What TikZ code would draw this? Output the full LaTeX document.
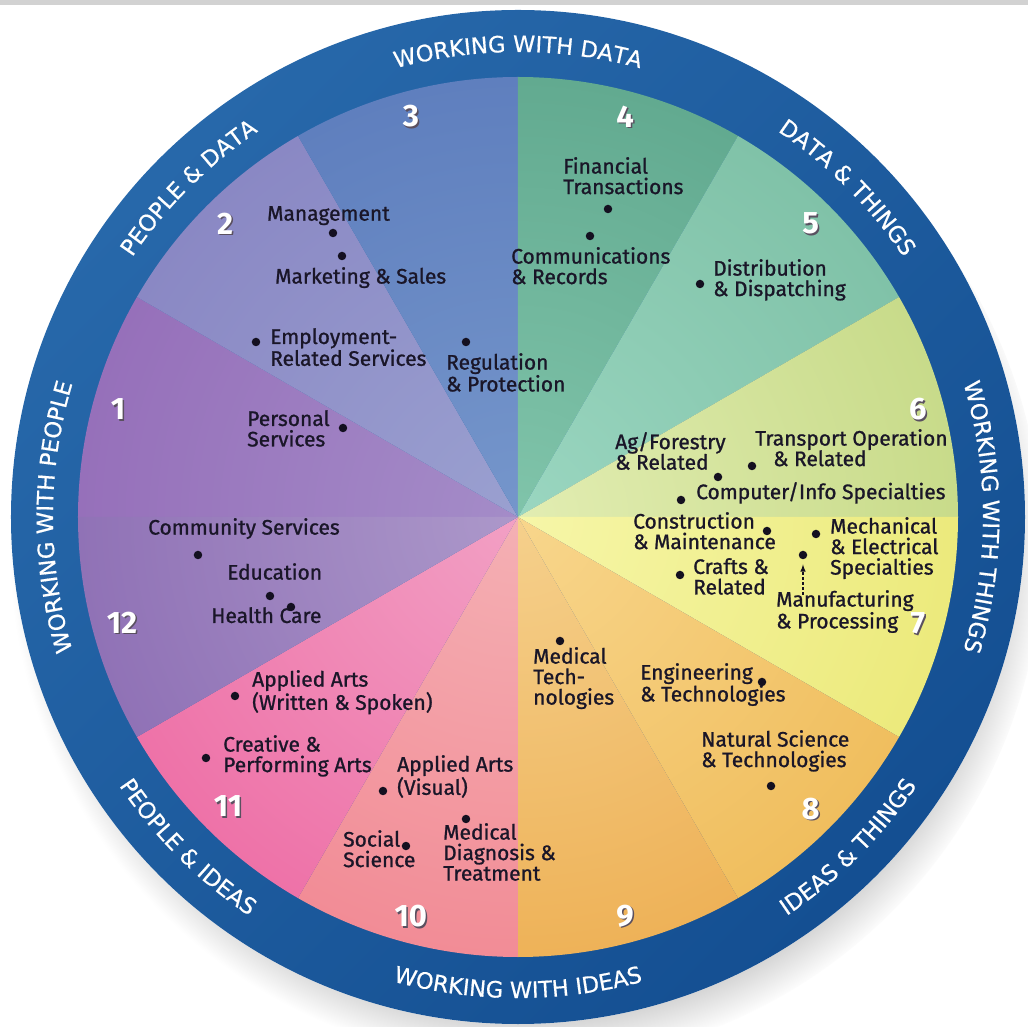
\documentclass[tikz,border=0pt]{standalone}
\usepackage{fontspec}
\usepackage{tikz}
\usetikzlibrary{decorations.text,shadows}
\setmainfont{Fira Sans}
\newfontfamily\labelfam{Fira Sans}[FakeBold=1.0]
\newfontfamily\ringfam{DejaVu Sans}[FakeBold=0.6]
\newfontfamily\numfam{Fira Sans}
\definecolor{ringtop}{HTML}{2768AA}
\definecolor{ringbottom}{HTML}{144F92}
\definecolor{labeltext}{HTML}{1A1628}
\definecolor{dotcol}{HTML}{141020}
\definecolor{numshadow}{HTML}{5A5060}
% sector colours: centre / rim
\definecolor{s1in}{HTML}{A48CC8}\definecolor{s1out}{HTML}{9670BA}
\definecolor{s2in}{HTML}{9AA0D0}\definecolor{s2out}{HTML}{8A88C4}
\definecolor{s3in}{HTML}{7596CB}\definecolor{s3out}{HTML}{5F7FBE}
\definecolor{s4in}{HTML}{80C4AA}\definecolor{s4out}{HTML}{62AA90}
\definecolor{s5in}{HTML}{9AD6C0}\definecolor{s5out}{HTML}{80C2A8}
\definecolor{s6in}{HTML}{E2EDB2}\definecolor{s6out}{HTML}{C8DB8A}
\definecolor{s7in}{HTML}{F6F6A8}\definecolor{s7out}{HTML}{ECEA7C}
\definecolor{s8in}{HTML}{F8D68C}\definecolor{s8out}{HTML}{F0BE5E}
\definecolor{s9in}{HTML}{F5D08C}\definecolor{s9out}{HTML}{EEB258}
\definecolor{s10in}{HTML}{F4B0B4}\definecolor{s10out}{HTML}{F28C96}
\definecolor{s11in}{HTML}{F2A0C4}\definecolor{s11out}{HTML}{EE72A8}
\definecolor{s12in}{HTML}{AC98CA}\definecolor{s12out}{HTML}{9072B6}
\newcommand\ringfont{\ringfam\fontsize{22.5}{24}\selectfont}
\newcommand\numtext[1]{\makebox[0pt][l]{\kern1.5pt\raisebox{-1.5pt}{\textcolor{numshadow}{#1}}}#1}
\newcommand\sectorfill[4]{%
  \begin{scope}
    \clip (0,0) -- (#1:440) arc[start angle=#1, end angle=#2, radius=440] -- cycle;
    \shade[inner color=#3, outer color=#4] (0,0) circle (440);
  \end{scope}}

\begin{document}
\begin{tikzpicture}[x=1pt,y=1pt,
  lbl/.style={anchor=north west, inner sep=0pt, align=left, text=labeltext,
    font=\labelfam\fontsize{21}{20.5}\selectfont},
  bullet/.style={circle, fill=dotcol, inner sep=0pt, minimum size=8.5pt},
  num/.style={text=white, inner sep=0pt, font=\numfam\bfseries\fontsize{31}{31}\selectfont},
  ringtext/.style={decorate, decoration={text along path, text align=center,
    text color=white, text={|\ringfont|#1}}}]
    \useasboundingbox (-518,-510) rectangle (510,517);
    \fill[gray!35] (-518,512) rectangle (510,517);

    % outer ring
    \fill[white, circular drop shadow={shadow xshift=10pt, shadow yshift=-28pt, shadow scale=1.02, opacity=0.6}] (0,0) circle (507);
    \shade[top color=ringtop, bottom color=ringbottom, shading angle=45] (0,0) circle (507);

    % twelve sectors
    \sectorfill{150}{180}{s1in}{s1out}
    \sectorfill{120}{150}{s2in}{s2out}
    \sectorfill{90}{120}{s3in}{s3out}
    \sectorfill{60}{90}{s4in}{s4out}
    \sectorfill{30}{60}{s5in}{s5out}
    \sectorfill{0}{30}{s6in}{s6out}
    \sectorfill{-30}{0}{s7in}{s7out}
    \sectorfill{-60}{-30}{s8in}{s8out}
    \sectorfill{-90}{-60}{s9in}{s9out}
    \sectorfill{-120}{-90}{s10in}{s10out}
    \sectorfill{-150}{-120}{s11in}{s11out}
    \sectorfill{-180}{-150}{s12in}{s12out}

    % ring captions
    \path[ringtext={WORKING WITH DATA}] (140:465) arc[start angle=140, end angle=40, radius=465];
    \path[ringtext={DATA {\&} THINGS}] (95:465) arc[start angle=95, end angle=-5, radius=465];
    \path[ringtext={WORKING WITH THINGS}] (50:465) arc[start angle=50, end angle=-50, radius=465];
    \path[ringtext={IDEAS {\&} THINGS}] (-95:481) arc[start angle=-95, end angle=5, radius=481];
    \path[ringtext={WORKING WITH IDEAS}] (-140:481) arc[start angle=-140, end angle=-40, radius=481];
    \path[ringtext={PEOPLE {\&} IDEAS}] (-185:481) arc[start angle=-185, end angle=-85, radius=481];
    \path[ringtext={WORKING WITH PEOPLE}] (230:465) arc[start angle=230, end angle=130, radius=465];
    \path[ringtext={PEOPLE {\&} DATA}] (185:465) arc[start angle=185, end angle=85, radius=465];

    % sector numbers
    \node[num] (n1) at (165:414) {\numtext{1}};
    \node[num] (n2) at (135:414) {\numtext{2}};
    \node[num] (n3) at (105:414) {\numtext{3}};
    \node[num] (n4) at (75:414) {\numtext{4}};
    \node[num] (n5) at (45:414) {\numtext{5}};
    \node[num] (n6) at (15:414) {\numtext{6}};
    \node[num] (n7) at (-15:414) {\numtext{7}};
    \node[num] (n8) at (-45:414) {\numtext{8}};
    \node[num] (n9) at (-75:414) {\numtext{9}};
    \node[num] (n10) at (-105:414) {\numtext{10}};
    \node[num] (n11) at (-135:410) {\numtext{11}};
    \node[num] (n12) at (-165:410) {\numtext{12}};

    % occupational areas
    \node[lbl] (mgmt) at (-251,311) {Management};
    \node[bullet] (d-mgmt) at (-185,284) {};
    \node[lbl] (mkt) at (-243,250) {Marketing \& Sales};
    \node[bullet] (d-mkt) at (-176,261) {};
    \node[lbl] (emp) at (-248,189) {Employment-\\Related Services};
    \node[bullet] (d-emp) at (-262,175) {};
    \node[lbl] (reg) at (-72,164) {Regulation\\\& Protection};
    \node[bullet] (d-reg) at (-52,175) {};
    \node[lbl] (pers) at (-271,107) {Personal\\Services};
    \node[bullet] (d-pers) at (-175,89) {};

    \node[lbl] (fin) at (45,360) {Financial\\Transactions};
    \node[bullet] (d-fin) at (90,308) {};
    \node[lbl] (comm) at (-7,270) {Communications\\\& Records};
    \node[bullet] (d-comm) at (72,281) {};
    \node[lbl] (dist) at (195,258) {Distribution\\\& Dispatching};
    \node[bullet] (d-dist) at (182,233) {};

    \node[lbl] (agri) at (97,85) {Ag/Forestry\\\& Related};
    \node[bullet] (d-agri) at (200,40) {};
    \node[lbl] (trans) at (237,88) {Transport Operation\\\hspace*{18pt}\& Related};
    \node[bullet] (d-trans) at (234,51) {};
    \node[lbl] (comp) at (178,35) {Computer/Info Specialties};
    \node[bullet] (d-comp) at (163,17) {};

    \node[lbl] (constr) at (115,5) {Construction\\\& Maintenance};
    \node[bullet] (d-constr) at (249,-14) {};
    \node[lbl] (mech) at (312,0) {Mechanical\\\& Electrical\\Specialties};
    \node[bullet] (d-mech) at (298,-17) {};
    \node[lbl] (mfg) at (258,-73) {Manufacturing\\\& Processing};
    \node[bullet] (d-mfg) at (285,-38) {};
    \coordinate (mfg-tail) at (285,-78);
    \draw[dotcol, line width=1.5pt, dash pattern=on 3pt off 2pt, -latex, shorten >=5pt] (mfg-tail) -- (d-mfg);
    \node[lbl] (crafts) at (175,-41) {Crafts \&\\Related};
    \node[bullet] (d-crafts) at (162,-58) {};

    \node[lbl] (medtech) at (15,-130) {Medical\\Tech-\\nologies};
    \node[bullet] (d-medtech) at (42,-124) {};
    \node[lbl] (eng) at (122,-146) {Engineering\\\& Technologies};
    \node[bullet] (d-eng) at (244,-165) {};
    \node[lbl] (natsci) at (183,-213) {Natural Science\\\& Technologies};
    \node[bullet] (d-natsci) at (253,-269) {};

    \node[lbl] (artsws) at (-266,-153) {Applied Arts\\(Written \& Spoken)};
    \node[bullet] (d-artsws) at (-283,-179) {};
    \node[lbl] (creative) at (-295,-218) {Creative \&\\Performing Arts};
    \node[bullet] (d-creative) at (-312,-241) {};
    \node[lbl] (artsvis) at (-121,-238) {Applied Arts\\(Visual)};
    \node[bullet] (d-artsvis) at (-135,-274) {};
    \node[lbl] (meddiag) at (-75,-306) {Medical\\Diagnosis \&\\Treatment};
    \node[bullet] (d-meddiag) at (-52,-302) {};
    \node[lbl] (socsci) at (-175,-313) {Social\\Science};
    \node[bullet] (d-socsci) at (-112,-329) {};

    \node[lbl] (commsvc) at (-370,-1) {Community Services};
    \node[bullet] (d-commsvc) at (-320,-38) {};
    \node[lbl] (edu) at (-291,-46) {Education};
    \node[bullet] (d-edu) at (-248,-79) {};
    \node[lbl] (health) at (-307,-90) {Health Care};
    \node[bullet] (d-health) at (-227,-90) {};
\end{tikzpicture}
\end{document}
